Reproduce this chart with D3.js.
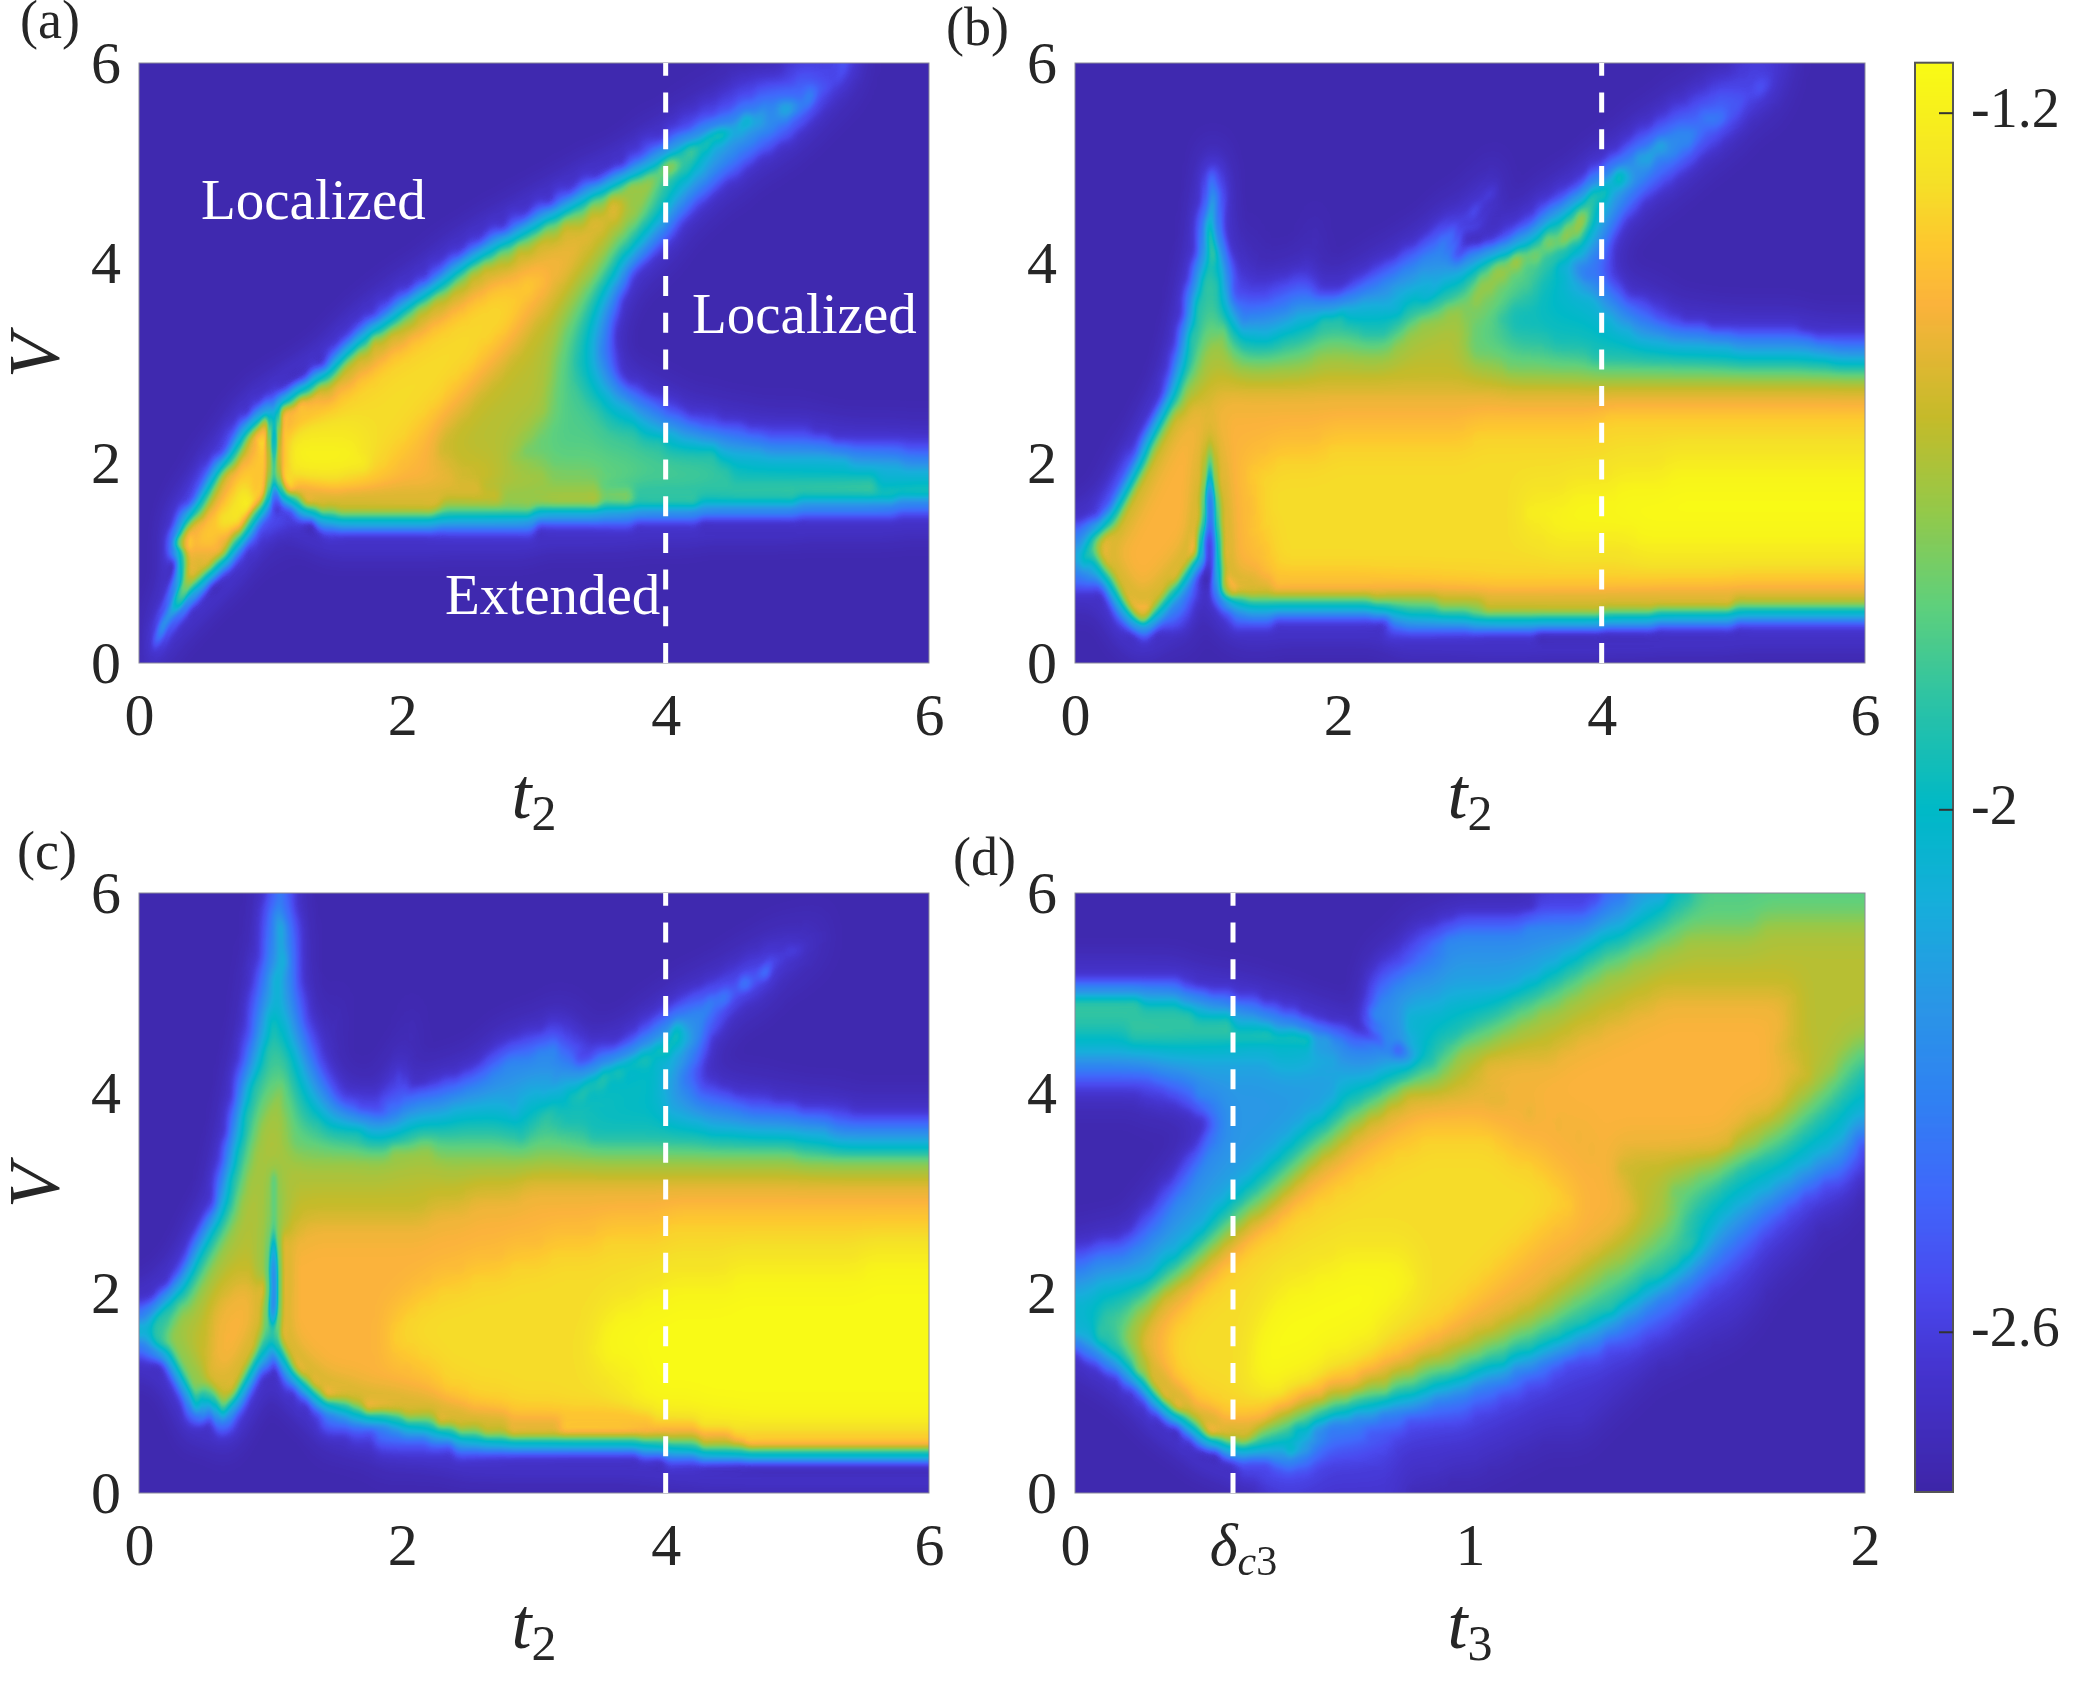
<!DOCTYPE html>
<html>
<head>
<meta charset="utf-8">
<script src="https://cdn.jsdelivr.net/npm/d3@7"></script>
<style>
  body { margin: 0; background: #fff; }
  #heat, #chart { position: absolute; left: 0; top: 0; }
  text { font-family: "Liberation Serif", serif; fill: #262626; }
</style>
</head>
<body>
<canvas id="heat" width="2075" height="1687"></canvas>
<svg id="chart" width="2075" height="1687"></svg>
<script>
// every row reads top to bottom (V = 6 to V = 0), tokens are startColumn:level
const levelValues = [-2.76, -2.64, -2.44, -2.22, -2.0, -1.8, -1.58, -1.42, -1.29, -1.15];

const panelARows = [
"0:0 98:1 106:2 108:1 110:0",
"0:0 90:1 100:2 107:1 108:0",
"0:0 88:1 94:2 101:3 103:2 105:1 106:0",
"0:0 85:1 91:2 94:3 97:4 100:3 102:2 103:1 104:0",
"0:0 82:1 88:2 90:3 91:4 92:5 93:4 95:3 99:2 101:1 102:0",
"0:0 80:1 84:2 85:3 86:4 87:5 90:4 92:3 97:2 99:1 100:0",
"0:0 76:1 80:2 81:3 82:4 83:5 87:4 89:3 94:2 96:1 97:0",
"0:0 74:1 77:2 78:3 79:4 80:5 85:4 87:3 91:2 93:1 94:0",
"0:0 72:1 74:2 75:3 76:4 77:5 79:6 82:5 84:4 86:3 89:2 91:1 92:0",
"0:0 67:1 70:2 71:3 72:4 73:5 74:6 79:5 81:4 84:3 87:2 88:1 89:0",
"0:0 63:1 66:2 67:3 68:4 69:5 71:6 78:5 80:4 82:3 84:2 86:1 87:0",
"0:0 60:1 63:2 64:3 65:4 66:5 68:6 71:7 74:6 77:5 79:4 81:3 83:2 84:1 85:0",
"0:0 56:1 59:2 60:3 61:4 62:5 64:6 68:7 73:6 76:5 78:4 80:3 81:2 82:1 83:0",
"0:0 53:1 56:2 57:3 58:4 59:5 61:6 64:7 71:6 74:5 76:4 78:3 80:2 81:1 82:0",
"0:0 50:1 52:2 53:3 54:4 55:5 57:6 60:7 69:6 72:5 75:4 77:3 78:2 79:1 80:0",
"0:0 47:1 49:2 50:3 51:4 52:5 54:6 57:7 67:6 71:5 73:4 75:3 76:2 77:1 78:0",
"0:0 44:1 46:2 47:3 48:4 49:5 50:6 52:7 66:6 70:5 72:4 73:3 74:2 75:1 76:0",
"0:0 42:1 44:2 45:3 46:4 47:5 48:6 50:7 58:8 62:7 65:6 69:5 71:4 73:3 74:1 75:0",
"0:0 39:1 41:2 42:3 43:4 44:5 45:6 47:7 53:8 60:7 63:6 67:5 69:4 71:3 72:2 73:1 74:0",
"0:0 36:1 38:2 39:3 40:4 41:5 42:6 44:7 50:8 58:7 62:6 66:5 69:4 70:3 72:2 73:0",
"0:0 34:1 36:2 37:3 38:4 39:5 40:6 42:7 47:8 57:7 60:6 65:5 68:4 70:3 71:2 72:1 73:0",
"0:0 32:1 33:2 34:3 35:5 37:6 38:7 44:8 56:7 59:6 64:5 67:4 69:3 71:2 72:0",
"0:0 30:1 31:2 32:3 33:5 35:7 41:8 54:7 58:6 64:5 67:4 69:3 70:2 72:0",
"0:0 28:1 29:2 30:3 31:5 32:6 33:7 38:8 52:7 56:6 63:5 66:4 69:3 70:2 72:1 73:0",
"0:0 26:1 28:2 29:4 30:6 31:7 36:8 51:7 55:6 63:5 66:4 69:3 71:2 72:1 73:0",
"0:0 24:1 25:2 26:4 27:6 29:7 33:8 49:7 53:6 63:5 67:4 70:3 72:2 73:1 74:0",
"0:0 20:1 22:2 23:4 24:6 26:7 30:8 47:7 51:6 62:5 68:4 72:3 74:2 76:1 77:0",
"0:0 17:1 19:3 20:2 21:6 22:7 24:8 46:7 50:6 63:5 70:4 75:3 78:2 80:1 82:0",
"0:0 15:1 17:3 18:5 19:7 20:2 21:7 23:8 44:7 48:6 62:5 71:4 76:3 79:2 83:1 88:0",
"0:0 13:1 15:3 16:5 17:7 19:8 20:2 21:8 42:7 46:6 60:5 76:4 82:3 85:2 92:1 102:0",
"0:0 12:1 14:3 15:5 16:7 18:8 20:2 21:8 23:9 33:8 41:7 45:6 58:5 80:4 88:3 95:2 105:1",
"0:0 11:1 13:3 14:5 15:7 17:8 20:3 21:8 23:9 35:8 39:7 45:6 56:5 88:4 108:3 116:2",
"0:0 9:1 11:3 12:5 13:7 15:8 20:3 21:8 23:9 35:8 38:7 48:6 62:5 90:4",
"0:0 8:1 10:3 11:5 12:7 14:8 19:7 20:3 21:7 22:8 31:7 52:6 70:5 112:4",
"0:0 7:1 9:3 10:5 11:7 13:8 15:9 17:8 19:6 20:1 21:3 22:7 55:6 75:5",
"0:0 6:1 8:3 9:5 10:7 12:8 14:9 17:8 18:6 19:3 20:1 23:2 24:5 25:7 46:6 70:5 85:4 100:3 115:2",
"0:0 5:1 6:3 7:5 8:7 10:8 12:9 15:8 16:7 17:4 18:2 19:1 25:1 27:4 30:5 45:4 60:2 75:1 85:0",
"0:0 5:2 6:5 7:7 9:8 14:7 16:4 17:2 18:1 22:0 28:1 60:0",
"0:0 4:2 5:6 6:7 7:8 12:7 14:5 15:3 16:1 18:0",
"0:0 4:1 6:4 7:7 13:5 14:2 15:1 16:0",
"0:0 5:1 6:5 7:7 11:5 12:2 13:1 14:0",
"0:0 5:2 6:5 7:6 9:5 10:2 11:0",
"0:0 4:1 5:4 6:6 7:5 8:3 9:1 10:0",
"0:0 4:3 5:5 6:4 7:1 8:0",
"0:0 3:3 4:4 5:2 6:0",
"0:0 2:2 3:4 4:1 5:0",
"0:0 1:1 2:3 3:1 4:0",
"0:0 1:1 2:0"
];

const panelBRows = [
"0:0 100:1 109:0",
"0:0 96:1 103:2 106:1 108:0",
"0:0 93:1 97:2 105:1 107:0",
"0:0 90:1 94:2 102:1 104:0",
"0:0 88:1 91:2 95:3 99:2 101:1 102:0",
"0:0 85:1 88:2 90:3 95:2 98:1 100:0",
"0:0 83:1 85:2 87:3 88:4 90:3 94:2 96:1 98:0",
"0:0 81:1 83:2 84:3 85:4 88:3 92:2 94:1 95:0",
"0:0 19:1 20:2 22:1 23:0 78:1 80:2 81:3 82:4 84:3 88:2 91:1 93:0",
"0:0 19:1 20:3 21:2 22:1 23:0 63:1 65:0 76:1 78:3 80:4 82:5 83:4 85:3 87:2 89:1 91:0",
"0:0 19:1 20:3 22:2 23:0 61:1 62:2 64:1 65:0 73:1 75:2 77:4 78:5 81:4 82:3 84:2 86:1 88:0",
"0:0 19:1 20:4 21:3 22:1 23:0 59:1 60:2 62:1 63:0 70:1 72:2 74:3 75:4 76:5 79:4 81:3 83:2 85:1 86:0",
"0:0 18:1 19:3 20:4 21:3 22:1 23:0 56:1 58:2 61:1 62:0 68:1 70:2 71:3 72:4 74:5 76:6 78:5 79:4 80:3 82:2 83:1 84:0",
"0:0 18:1 19:3 20:5 21:3 22:1 23:0 36:1 37:0 54:1 55:2 57:3 58:1 59:0 65:1 67:2 69:3 70:4 71:5 74:6 77:5 78:4 79:3 81:2 82:1 83:0",
"0:0 18:1 19:3 20:5 21:4 22:2 23:0 26:1 27:0 36:1 37:0 52:1 53:2 55:3 57:2 58:1 59:0 62:1 64:2 66:3 67:4 69:5 71:6 75:5 77:4 78:3 80:2 81:1 82:0",
"0:0 18:1 19:3 20:5 22:3 23:1 24:0 26:1 27:0 35:1 36:0 49:1 50:2 52:3 56:2 57:1 59:2 60:3 62:4 64:5 66:6 71:5 73:4 75:3 78:2 81:1 82:0",
"0:0 17:1 18:3 19:4 20:5 21:4 23:2 24:1 25:0 26:1 27:0 35:1 36:0 45:1 47:2 49:3 59:4 61:5 63:6 68:5 71:4 73:3 76:2 80:1 82:0",
"0:0 17:1 18:3 19:5 22:4 23:2 24:1 30:1 33:2 35:1 37:0 42:1 44:2 46:3 52:4 54:3 56:4 59:5 61:6 66:5 70:4 75:3 77:2 81:1 83:0",
"0:0 16:1 17:3 18:4 19:5 22:4 23:2 24:1 30:2 36:1 41:2 43:3 48:4 52:3 55:4 58:5 60:6 64:5 70:4 79:3 81:2 83:1 84:0",
"0:0 16:1 17:3 18:5 22:4 23:3 24:2 33:3 40:4 47:3 50:4 54:5 56:6 62:5 66:4 80:3 83:2 87:1 90:0",
"0:0 16:1 17:3 18:5 23:4 24:3 25:2 27:3 33:4 37:5 41:4 50:5 52:6 59:5 64:4 82:3 85:2 88:1 92:0",
"0:0 15:1 16:3 17:5 22:6 23:5 24:4 25:3 26:4 28:3 30:4 36:5 43:4 48:5 50:6 60:5 66:4 85:3 90:2 96:1 110:0",
"0:0 15:1 16:3 17:5 20:6 23:5 25:4 31:5 48:6 59:5 72:4 100:3 112:2",
"0:0 14:1 15:2 16:4 17:5 19:6 24:5 36:6 60:5 78:4 115:3",
"0:0 14:1 15:3 16:4 17:5 19:6 65:5",
"0:0 13:1 14:2 15:4 16:5 17:6",
"0:0 13:1 14:3 15:4 16:6 21:7",
"0:0 12:1 13:3 14:5 15:6 17:7",
"0:0 11:1 12:3 13:5 14:6 15:7 20:6 21:7 80:8",
"0:0 10:1 11:3 12:5 13:6 14:7 20:6 21:7 60:8",
"0:0 9:1 10:3 11:5 12:6 13:7 20:5 21:7 38:8",
"0:0 7:1 9:2 10:4 11:6 12:7 20:4 21:7 30:8",
"0:0 6:1 8:2 9:4 10:6 11:7 20:3 21:7 26:8 90:9",
"0:0 5:1 7:2 8:4 9:6 10:7 20:2 21:7 26:8 82:9",
"0:0 4:1 6:2 7:4 8:6 9:7 19:6 20:0 21:6 22:7 28:8 75:9",
"0:0 3:1 5:2 6:4 7:6 8:7 19:6 20:0 21:5 22:7 28:8 68:9",
"0:0 2:1 4:3 5:4 6:6 7:7 19:6 20:0 21:5 22:7 28:8 68:9",
"0:2 1:3 2:4 3:5 4:6 5:7 19:4 20:0 21:4 22:7 26:8 72:9",
"0:3 1:4 2:5 3:6 4:7 19:2 20:0 21:3 22:7 30:8 85:9",
"0:4 1:5 3:6 4:7 18:6 19:3 20:0 21:3 22:7 30:8",
"0:3 1:4 2:3 3:4 4:6 5:7 17:5 18:2 19:1 20:0 21:3 22:6 23:7 28:8",
"0:2 4:3 5:5 6:7 16:4 17:2 18:1 19:0 21:3 22:6 23:7 30:8",
"0:0 4:1 5:3 6:5 7:7 14:5 15:3 16:2 18:1 19:0 21:3 22:5 23:7",
"0:0 5:1 6:3 7:5 8:7 12:6 13:4 14:2 17:1 18:0 22:2 24:3 26:4 45:5 55:6 62:7 100:6",
"0:0 6:1 7:2 8:4 9:6 10:7 11:5 12:3 13:2 17:1 18:0 23:1 24:2 30:1 48:3 50:4 60:5 80:4 88:3 100:2",
"0:0 9:1 10:2 11:1 12:0 47:1 70:0",
"0:0",
"0:0"
];

const panelCRows = [
"0:0 19:1 20:2 21:3 22:2 23:1 24:0",
"0:0 18:1 19:2 20:3 22:2 23:1 24:0",
"0:0 18:1 19:2 20:3 21:4 22:3 23:2 24:1 25:0",
"0:0 18:1 19:2 20:3 21:4 22:3 23:2 24:1 25:0 101:1 105:0",
"0:0 18:1 19:2 20:3 21:4 22:3 23:2 24:1 25:0 95:1 98:2 101:1 103:0",
"0:0 16:1 17:0 18:1 19:2 20:3 21:4 23:2 24:1 25:0 92:1 95:2 98:1 100:0",
"0:0 17:1 18:2 19:3 20:4 22:3 23:2 24:1 25:0 89:1 91:2 94:3 96:1 97:0",
"0:0 17:1 18:2 19:3 20:4 22:3 23:2 24:1 25:0 86:1 88:2 91:3 93:2 94:1 95:0",
"0:0 16:1 17:2 19:3 20:4 22:3 23:2 25:1 26:0 82:1 84:2 86:3 90:2 91:1 92:0",
"0:0 16:1 17:2 18:3 19:4 22:3 24:2 25:1 26:0 30:1 31:0 79:1 81:2 83:3 87:2 89:1 90:0",
"0:0 16:1 17:2 18:3 19:4 20:5 21:4 23:3 24:2 25:1 27:0 29:1 30:0 41:1 42:0 62:1 66:0 76:1 78:2 80:3 81:4 83:3 86:2 88:1 89:0",
"0:0 15:1 17:2 18:3 19:4 20:5 21:4 23:3 25:2 26:1 28:0 29:1 30:0 41:1 42:0 58:1 62:2 64:1 66:2 67:1 68:0 74:1 76:2 78:3 80:4 81:5 82:4 84:3 86:1 87:0",
"0:0 15:1 16:2 17:3 18:4 19:5 22:4 24:3 25:2 27:1 28:0 40:1 41:0 54:1 56:2 60:3 64:2 66:1 73:2 75:3 76:4 78:5 81:4 83:3 85:2 86:1 87:0",
"0:0 15:1 16:2 17:3 18:4 19:5 23:4 25:3 26:2 27:1 29:0 39:1 40:0 52:1 53:2 55:3 64:2 66:1 69:2 70:3 72:4 74:5 78:4 81:3 83:2 85:1 86:0",
"0:0 14:1 15:2 16:3 17:4 18:5 23:4 25:3 27:2 28:1 30:0 38:1 39:2 40:1 41:0 49:1 51:2 53:3 63:2 64:3 68:4 70:5 74:4 79:3 82:2 84:1 86:0",
"0:0 14:1 15:3 16:4 17:5 21:6 22:5 24:4 26:3 28:2 29:1 31:0 37:1 39:2 40:1 41:0 44:1 46:2 49:3 64:4 67:5 71:4 79:3 82:2 85:1 88:0",
"0:0 14:1 15:3 16:4 17:5 20:6 22:5 24:4 27:3 29:2 30:1 37:2 39:1 40:2 42:3 58:4 61:3 62:4 65:5 68:4 80:3 84:2 90:1 96:0",
"0:0 13:1 14:2 15:4 16:5 19:6 22:5 25:4 28:3 31:2 33:1 38:2 40:3 47:4 56:3 58:4 61:5 64:4 80:3 92:2 100:1 108:0",
"0:0 13:1 14:3 15:4 16:5 18:6 23:5 28:4 35:3 40:4 60:5 63:4 86:3 105:2",
"0:0 13:1 14:3 15:4 16:5 18:6 22:5 34:4 42:5 57:4 59:5 68:4 105:3",
"0:0 12:1 13:3 14:4 15:5 17:6 23:5 38:6 45:5 100:4",
"0:0 12:1 13:2 14:4 15:5 17:6",
"0:0 11:1 12:2 13:4 14:5 16:6 20:4 21:6",
"0:0 11:1 12:3 13:4 14:5 16:6 20:4 21:6 58:7",
"0:0 11:1 12:3 13:4 14:5 15:6 20:4 21:6 50:7",
"0:0 10:1 11:2 12:4 13:5 15:6 20:4 21:6 44:7",
"0:0 9:1 10:3 11:4 12:5 14:6 20:4 21:6 25:7 80:8",
"0:0 8:1 9:3 10:4 11:5 13:6 20:3 21:7 70:8",
"0:0 7:1 8:3 9:4 10:5 12:6 20:2 21:7 62:8",
"0:0 6:1 7:2 8:4 9:5 11:6 20:1 21:7 56:8 110:9",
"0:0 5:1 6:2 7:4 8:5 10:6 20:0 21:7 50:8 90:9",
"0:0 4:1 5:3 6:4 7:5 9:6 14:7 20:0 21:7 45:8 80:9",
"0:0 2:1 3:3 4:4 5:5 8:6 12:7 19:6 20:0 21:7 42:8 76:9",
"0:2 1:3 2:4 3:5 6:6 11:7 19:5 20:1 21:7 40:8 72:9",
"0:4 2:5 5:6 11:7 19:5 20:3 21:7 38:8 70:9",
"0:4 2:5 4:6 11:7 18:6 19:5 20:4 21:7 38:8 70:9",
"0:2 1:3 2:4 3:5 5:6 11:7 18:5 19:3 21:5 22:7 38:8 68:9",
"0:0 3:1 4:3 5:5 6:6 10:7 17:5 18:3 20:1 21:3 22:5 23:7 42:8 70:9",
"0:0 4:1 5:3 6:5 7:6 10:7 16:5 17:3 18:1 19:0 21:1 22:3 23:5 24:7 45:8 76:9",
"0:0 5:1 6:3 7:5 8:6 11:7 15:5 16:3 17:1 18:0 22:1 24:3 25:5 26:7 46:8 72:9",
"0:0 6:1 7:3 8:5 9:4 10:3 11:5 12:6 14:5 15:3 16:1 17:0 24:1 26:3 27:5 28:7 50:8 75:9",
"0:0 7:2 8:4 10:2 11:3 12:5 13:4 14:2 15:1 16:0 26:1 28:2 30:3 32:5 34:7 56:8 78:9",
"0:0 11:1 12:3 13:2 14:1 15:0 27:1 28:2 38:3 40:5 45:7 64:8 85:9",
"0:0 32:1 36:2 44:3 48:5 52:6 56:7 90:8",
"0:0 36:1 48:2 76:3 80:4 85:6 92:7",
"0:0 80:1",
"0:0",
"0:0"
];

const panelDRows = [
"0:0 70:1 80:2 84:3 90:4 94:5",
"0:0 70:1 78:2 80:3 86:4 90:5",
"0:0 55:1 58:2 68:3 84:4 88:5 104:6",
"0:0 50:1 52:2 56:3 79:4 84:5 92:6",
"0:0 48:1 50:2 54:3 77:4 80:5 88:6",
"0:0 46:1 52:2 56:3 74:4 77:5 84:6",
"0:0 44:1 46:2 50:3 71:4 74:5 80:6",
"0:2 16:1 18:0 44:1 45:2 48:3 68:4 71:5 77:6",
"0:5 10:4 16:3 20:2 24:1 28:0 44:1 45:2 46:3 56:4 66:5 74:6 88:7 110:6",
"0:5 18:4 24:3 28:2 31:1 34:0 43:1 44:3 50:4 64:5 70:6 84:7 108:6",
"0:5 24:4 30:3 34:2 36:1 38:0 44:1 45:3 50:4 61:5 67:6 80:7 110:6",
"0:4 8:5 36:4 39:3 41:2 42:1 44:0 46:1 47:3 50:4 59:5 64:6 76:7 108:6",
"0:4 36:3 46:2 48:1 50:2 51:3 53:4 55:5 58:6 73:7 106:6 118:5",
"0:3 30:4 40:3 52:4 55:5 57:6 62:7 110:6 116:5",
"0:2 12:3 46:4 51:5 56:6 60:7 112:6 116:5 119:4",
"0:1 14:2 18:3 40:4 47:5 49:6 62:7 108:6 114:5 118:4",
"0:0 10:1 16:2 18:3 40:4 44:5 47:6 50:7 62:6 66:7 108:6 112:5 116:4",
"0:0 18:1 20:2 22:3 38:4 41:5 44:6 47:7 68:6 70:7 106:6 110:5 114:4",
"0:0 20:1 21:2 23:3 35:4 39:5 41:6 44:7 73:6 74:7 102:6 108:5 112:4 118:3",
"0:0 19:1 20:2 22:3 33:4 36:5 39:6 42:7 52:8 64:7 76:6 77:7 100:6 105:5 110:4 117:3 118:2",
"0:0 18:1 19:2 20:3 31:4 34:5 37:6 40:7 48:8 66:7 78:6 79:7 100:6 104:5 108:4 115:3 118:2 119:1",
"0:0 16:1 17:2 19:3 29:4 32:5 35:6 37:7 45:8 70:7 82:6 98:5 102:4 112:3 117:2 119:1",
"0:0 15:1 16:2 18:3 27:4 30:5 33:6 35:7 42:8 72:7 82:6 94:5 100:4 109:3 113:2 117:1",
"0:0 13:1 15:2 17:3 25:4 28:5 31:6 33:7 39:8 74:7 84:6 90:5 98:4 106:3 110:2 113:1 119:0",
"0:0 12:1 13:2 15:3 23:4 26:5 29:6 31:7 36:8 76:7 85:6 90:5 96:4 103:3 107:2 110:1 118:0",
"0:0 10:1 12:2 14:3 21:4 24:5 26:6 29:7 33:8 76:7 86:6 92:5 94:4 100:3 104:2 108:1 116:0",
"0:0 9:1 10:2 13:3 20:4 22:5 24:6 26:7 31:8 72:7 84:6 90:5 92:4 98:3 102:2 106:1 112:0",
"0:0 7:1 9:2 11:3 18:4 20:5 22:6 24:7 28:8 70:7 82:6 88:5 95:4 97:3 100:2 104:1 112:0",
"0:1 3:2 8:3 16:4 18:5 20:6 22:7 26:8 68:7 80:6 86:5 94:4 96:3 98:2 103:1 110:0",
"0:2 2:3 13:4 16:5 18:6 20:7 24:8 40:9 50:8 66:7 77:6 84:5 92:4 94:3 96:2 101:1 108:0",
"0:3 12:4 14:5 16:6 18:7 22:8 36:9 52:8 64:7 75:6 80:5 90:4 92:3 94:2 99:1 106:0",
"0:3 3:4 11:5 13:6 15:7 20:8 32:9 52:8 62:7 72:6 78:5 86:4 89:3 91:2 96:1 104:0",
"0:4 8:5 11:6 13:7 18:8 30:9 50:8 60:7 70:6 75:5 84:4 86:3 88:2 94:1 104:0",
"0:4 4:5 9:6 12:7 17:8 29:9 48:8 58:7 67:6 73:5 82:4 83:3 86:2 92:1 102:0",
"0:4 3:5 8:6 11:7 15:8 28:9 46:8 56:7 64:6 70:5 78:4 80:3 83:2 90:1 100:0",
"0:4 3:5 7:6 10:7 14:8 27:9 46:8 53:7 60:6 66:5 74:4 76:3 80:2 86:1 96:0",
"0:1 1:3 3:4 5:5 8:6 10:7 14:8 27:9 42:8 50:7 56:6 62:5 70:4 72:3 76:2 80:1 92:0",
"0:0 2:1 4:3 6:4 7:5 9:6 11:7 15:8 27:9 38:8 46:7 52:6 58:5 66:3 70:2 74:1 88:0",
"0:0 5:1 7:3 8:4 9:6 11:7 15:8 26:9 36:8 43:7 48:6 52:5 60:4 62:3 66:2 72:1 86:0",
"0:0 7:1 9:2 10:4 11:6 12:7 17:8 28:9 32:8 38:7 44:6 48:5 54:4 57:3 60:2 68:1 84:0",
"0:0 9:1 11:3 12:5 13:7 18:8 34:7 38:6 42:5 48:4 52:3 54:2 64:1 82:0",
"0:0 11:1 13:3 14:5 15:7 22:8 30:7 33:6 36:5 39:4 42:3 46:2 60:1 80:0",
"0:0 14:1 16:3 17:5 18:6 19:7 29:6 31:5 33:4 36:3 38:2 50:1 78:0",
"0:0 16:1 18:3 19:5 20:7 27:6 28:5 30:4 33:3 36:2 44:1 70:0",
"0:0 20:1 22:3 23:4 25:5 26:4 32:5 34:4 36:3 38:2 48:1 66:0",
"0:0 24:1 30:2 32:3 33:2 36:1 62:0",
"0:0 25:1 56:0",
"0:0 28:1 50:0"
];

const vTicks = [0, 2, 4, 6];
const t2Ticks = [0, 2, 4, 6];
const t3Ticks = [0, 0.4, 1, 2];
const barTicks = [-1.2, -2, -2.6];
const barDomain = [-2.784, -1.1426];
const colorValues = [-2.784, -2.64, -2.55, -2.44, -2.33, -2.22, -2.11, -2, -1.875, -1.766, -1.658, -1.55, -1.42, -1.35, -1.28, -1.1426];
const colorRange = ["#3e26a8", "#4535d0", "#4a4aef", "#4068fb", "#3082f2", "#2a97e6", "#17aedb", "#00b9c7", "#2dc3a5", "#5fd07c", "#94c94a", "#c5bb2a", "#fbb33c", "#fdc82f", "#f5e028", "#f9fb15"];

const color = d3.scaleLinear().domain(colorValues).range(colorRange);
const toGray = d3.scaleLinear().domain(barDomain).range([0, 255]);
const colorTable = d3.range(256).map(g => d3.rgb(color(toGray.invert(g))));

const panelW = 790, panelH = 600;
const panels = [
  { name: "(a)", rows: panelARows, left: 139, top: 63, xMax: 6, xTicks: t2Ticks, sub: "2", dash: 4, yLabel: true, nameX: 20, nameY: 38 },
  { name: "(b)", rows: panelBRows, left: 1075, top: 63, xMax: 6, xTicks: t2Ticks, sub: "2", dash: 4, yLabel: false, nameX: 946, nameY: 45 },
  { name: "(c)", rows: panelCRows, left: 139, top: 893, xMax: 6, xTicks: t2Ticks, sub: "2", dash: 4, yLabel: true, nameX: 17, nameY: 869 },
  { name: "(d)", rows: panelDRows, left: 1075, top: 893, xMax: 2, xTicks: t3Ticks, sub: "3", dash: 0.4, yLabel: false, nameX: 953, nameY: 875 }
];

const svg = d3.select("#chart");
const ctx = document.getElementById("heat").getContext("2d");

function decodeRow(row) {
  const cells = new Array(120).fill(0);
  row.split(" ").forEach(token => {
    const [col, level] = token.split(":").map(Number);
    cells.fill(level, col);
  });
  return cells;
}

function newCanvas(w, h) {
  const c = document.createElement("canvas");
  c.width = w;
  c.height = h;
  return c;
}

// blur the gray cell image (twice as wide, so x blur is half of y blur) and read it back
function blurredGray(stretched, blur, marginX, marginY) {
  const out = newCanvas(stretched.width, stretched.height);
  const octx = out.getContext("2d");
  octx.filter = `blur(${blur}px)`;
  octx.drawImage(stretched, 0, 0);
  const back = newCanvas(panelW, panelH);
  const bctx = back.getContext("2d");
  bctx.imageSmoothingQuality = "high";
  bctx.drawImage(out, marginX, marginY, panelW * 2, panelH, 0, 0, panelW, panelH);
  return bctx.getImageData(0, 0, panelW, panelH).data;
}

function drawHeat(p) {
  const small = newCanvas(120, p.rows.length);
  const sctx = small.getContext("2d");
  const col = d3.scaleBand().domain(d3.range(120)).range([0, 120]);
  const row = d3.scaleBand().domain(d3.range(p.rows.length)).range([0, p.rows.length]);
  p.rows.forEach((r, j) => {
    decodeRow(r).forEach((level, i) => {
      const g = Math.round(toGray(levelValues[level]));
      sctx.fillStyle = `rgb(${g},${g},${g})`;
      sctx.fillRect(col(i), row(j), col.bandwidth(), row.bandwidth());
    });
  });

  const mx = 120, my = 60, w = panelW * 2, h = panelH;
  const wide = newCanvas(w + 2 * mx, h + 2 * my);
  const wctx = wide.getContext("2d");
  wctx.imageSmoothingQuality = "high";
  wctx.drawImage(small, 0, 0, wide.width, wide.height);
  wctx.drawImage(small, mx, my, w, h);
  // repeat the edge pixels so the blur does not pull in anything from outside
  wctx.imageSmoothingEnabled = false;
  wctx.drawImage(wide, mx + 1, my, 1, h, 0, my, mx + 1, h);
  wctx.drawImage(wide, mx + w - 2, my, 1, h, mx + w - 1, my, mx + 1, h);
  wctx.drawImage(wide, 0, my + 1, wide.width, 1, 0, 0, wide.width, my + 1);
  wctx.drawImage(wide, 0, my + h - 2, wide.width, 1, 0, my + h - 1, wide.width, my + 1);

  const sharp = blurredGray(wide, 7, mx, my);
  const soft = blurredGray(wide, 20, mx, my);
  const image = ctx.createImageData(panelW, panelH);
  for (let i = 0; i < sharp.length; i += 4) {
    // keep edges crisp, let the flat parts take the wide blur
    const mix = Math.min(1, Math.abs(sharp[i] - soft[i]) / 45);
    const c = colorTable[Math.round(soft[i] * (1 - mix) + sharp[i] * mix)];
    image.data[i] = c.r;
    image.data[i + 1] = c.g;
    image.data[i + 2] = c.b;
    image.data[i + 3] = 255;
  }
  ctx.putImageData(image, p.left, p.top);
}

function drawPanel(p) {
  drawHeat(p);
  const x = d3.scaleLinear().domain([0, p.xMax]).range([p.left, p.left + panelW]);
  const y = d3.scaleLinear().domain([0, 6]).range([p.top + panelH, p.top]);

  svg.append("rect")
    .attr("x", p.left).attr("y", p.top)
    .attr("width", panelW).attr("height", panelH)
    .attr("fill", "none").attr("stroke", "#8a8a9a").attr("stroke-width", 1);

  const xAxis = svg.append("g")
    .attr("transform", `translate(0,${p.top + panelH})`)
    .call(d3.axisBottom(x).tickValues(p.xTicks).tickSize(0).tickPadding(29).tickFormat(d => d === 0.4 ? "" : d));
  const yAxis = svg.append("g")
    .attr("transform", `translate(${p.left},0)`)
    .call(d3.axisLeft(y).tickValues(vTicks).tickSize(0).tickPadding(18).tickFormat(d3.format("d")));
  [xAxis, yAxis].forEach(a => {
    a.select(".domain").remove();
    a.selectAll("text").style("font-size", "60px").style("font-family", '"Liberation Serif", serif').attr("fill", "#262626");
  });

  if (p.dash === 0.4) {
    const delta = xAxis.selectAll(".tick").filter(d => d === 0.4).select("text").attr("x", 10);
    delta.append("tspan").attr("font-style", "italic").text("δ");
    delta.append("tspan").attr("font-style", "italic").attr("dy", 10).style("font-size", "42px").text("c");
    delta.append("tspan").style("font-size", "42px").text("3");
  }

  svg.append("line")
    .attr("x1", x(p.dash)).attr("x2", x(p.dash))
    .attr("y1", y(0)).attr("y2", y(6))
    .attr("stroke", "#fff").attr("stroke-width", 5).attr("stroke-dasharray", "20 16.7");

  const xLabel = svg.append("text")
    .attr("x", p.left + panelW / 2).attr("y", p.top + panelH + 155)
    .attr("text-anchor", "middle").style("font-size", "72px").style("font-style", "italic");
  xLabel.append("tspan").text("t");
  xLabel.append("tspan").attr("dy", 12).style("font-size", "50px").style("font-style", "normal").text(p.sub);

  if (p.yLabel) {
    svg.append("text")
      .attr("transform", `translate(58,${p.top + panelH / 2 - 7}) rotate(-90)`)
      .attr("text-anchor", "middle").style("font-size", "72px").style("font-style", "italic").text("V");
  }

  svg.append("text").attr("x", p.nameX).attr("y", p.nameY).style("font-size", "54px").text(p.name);
}

panels.forEach(drawPanel);

const notes = [
  { text: "Localized", x: 201, y: 219 },
  { text: "Localized", x: 692, y: 333 },
  { text: "Extended", x: 445, y: 614 }
];
svg.selectAll("text.note").data(notes).enter().append("text")
  .attr("class", "note")
  .attr("x", d => d.x).attr("y", d => d.y)
  .style("font-size", "57px").style("fill", "#fff")
  .text(d => d.text);

// colour bar
const barLeft = 1915, barW = 38, barTop = 62.7, barBottom = 1492;
const barY = d3.scaleLinear().domain(barDomain).range([barBottom, barTop]);
svg.append("g").selectAll("rect")
  .data(d3.range(Math.round(barBottom - barTop)))
  .enter().append("rect")
  .attr("x", barLeft).attr("width", barW)
  .attr("y", d => barTop + d).attr("height", 1.5)
  .attr("fill", d => color(barY.invert(barTop + d + 0.5)));
svg.append("rect")
  .attr("x", barLeft).attr("y", barTop).attr("width", barW).attr("height", barBottom - barTop)
  .attr("fill", "none").attr("stroke", "#555").attr("stroke-width", 2);
const barAxis = svg.append("g")
  .attr("transform", `translate(${barLeft + barW},0)`)
  .call(d3.axisRight(barY).tickValues(barTicks).tickSize(-14).tickPadding(32).tickFormat(d => String(d)));
barAxis.select(".domain").remove();
barAxis.selectAll("line").attr("stroke", "#333").attr("stroke-width", 2);
barAxis.selectAll("text").attr("x", 18).attr("dy", "0.25em").style("font-size", "56px").style("font-family", '"Liberation Serif", serif').attr("fill", "#262626");
</script>
</body>
</html>
